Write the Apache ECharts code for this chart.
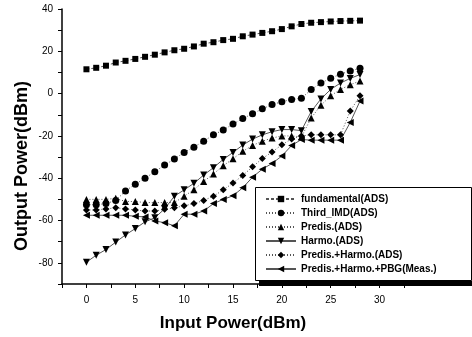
<!DOCTYPE html>
<html>
<head>
<meta charset="utf-8">
<script src="https://cdn.jsdelivr.net/npm/echarts@6/dist/echarts.min.js"></script>
<style>
  html, body { margin: 0; padding: 0; background: #fff; }
  #chart { width: 472px; height: 337px; }
</style>
</head>
<body>
<div id="chart"></div>
<script>
// input power (dBm)
const inputPower = [0, 1, 2, 3, 4, 5, 6, 7, 8, 9, 10, 11, 12, 13, 14, 15, 16, 17, 18, 19, 20, 21, 22, 23, 24, 25, 26, 27, 28];

// output power (dBm)
const fundamental = [11.5, 12.2, 13.2, 14.7, 15.5, 16.4, 17.4, 18.4, 19.5, 20.5, 21.2, 22.3, 23.6, 24.3, 25.3, 25.9, 27.1, 27.9, 28.7, 29.5, 30.5, 31.8, 32.9, 33.5, 33.8, 34.1, 34.3, 34.4, 34.5];
const thirdIMD = [-52.5, -52.5, -52, -50.5, -46, -42.8, -40, -36.9, -33.8, -30.9, -27.8, -25.3, -22.5, -19.5, -17.2, -14.4, -11.8, -9.5, -7.2, -5.2, -3.8, -2.8, -2.2, 1.9, 5, 7.3, 9.2, 10.7, 12];
const predis = [-50, -50, -50, -49.5, -51, -51, -51.5, -51.5, -51.5, -51.5, -48.5, -45.4, -41.5, -38, -34.1, -30.8, -27.3, -24.5, -22.5, -21, -20, -20, -20.5, -11.5, -5.5, -1, 2, 4.2, 6];
const harmo = [-79.7, -76.4, -73.7, -70.2, -66.8, -63.8, -60.6, -58.7, -54.5, -48.5, -45.5, -42.4, -38.5, -35, -31.1, -27.8, -24.3, -21.5, -19.5, -18, -17, -17, -17.5, -8.5, -2.5, 2, 5, 7.2, 9];
const predisHarmo = [-55, -55, -54.5, -54, -54.5, -55, -55.5, -55.5, -54.7, -54, -53, -52, -50.5, -48.5, -45.5, -42.3, -38.7, -34.6, -30.7, -27.6, -24.2, -21.4, -20, -19.5, -19.5, -19.5, -19.5, -8.2, -1];
const predisHarmoPBG = [-57.5, -57.5, -57.5, -57.5, -57.5, -58, -58.3, -60.2, -61, -62.5, -57, -57, -55.5, -52, -50, -48.3, -44.5, -39.5, -35.7, -33, -29.5, -24.5, -21.7, -22, -22, -22, -22, -13.6, -3.5];

const xLabels = [0, 5, 10, 15, 20, 25, 30];
const xTicks = [-2.5, 0, 2.5, 5, 7.5, 10, 12.5, 15, 17.5, 20, 22.5, 25, 27.5, 30, 32.5];
const yLabels = [-80, -60, -40, -20, 0, 20, 40];
const yTicks = [-90, -80, -70, -60, -50, -40, -30, -20, -10, 0, 10, 20, 30, 40];

const font = 'Arial, "Liberation Sans", sans-serif';

function mkSeries(name, values, symbol, rotate, dash) {
  return {
    name: name,
    type: 'line',
    data: inputPower.map((x, i) => [x, values[i]]),
    symbol: symbol,
    symbolSize: symbol === 'rect' ? 6 : 7,
    symbolRotate: rotate,
    itemStyle: { color: '#000' },
    lineStyle: { color: '#555', width: 1, type: dash },
    emphasis: { disabled: true },
    animation: false
  };
}

const chart = echarts.init(document.getElementById('chart'), null, { renderer: 'canvas' });
chart.setOption({
  backgroundColor: '#fff',
  animation: false,
  grid: { left: 62, top: 9, right: 68, bottom: 50 },
  xAxis: {
    type: 'value',
    min: -2.5,
    max: 32.5,
    name: 'Input Power(dBm)',
    nameLocation: 'middle',
    nameGap: 31,
    nameTextStyle: { fontFamily: font, fontWeight: 'bold', fontSize: 17, color: '#000' },
    axisLine: { onZero: false, lineStyle: { color: '#000', width: 1.5 } },
    axisTick: { customValues: xTicks, length: 4, lineStyle: { color: '#000' } },
    axisLabel: { customValues: xLabels, margin: 11, fontFamily: font, fontSize: 10, color: '#000' },
    splitLine: { show: false }
  },
  yAxis: {
    type: 'value',
    min: -90,
    max: 40,
    axisLine: { show: true, onZero: false, lineStyle: { color: '#000', width: 1.5 } },
    axisTick: { show: true, customValues: yTicks, length: 4, lineStyle: { color: '#000' } },
    axisLabel: { customValues: yLabels, margin: 9, fontFamily: font, fontSize: 10, color: '#000' },
    splitLine: { show: false }
  },
  graphic: [
    { type: 'rect', z: 3, shape: { x: 259, y: 281, width: 213, height: 5 }, style: { fill: '#000' } },
    { type: 'rect', z: 3, shape: { x: 255.5, y: 187.5, width: 216, height: 93 }, style: { fill: '#fff', stroke: '#000', lineWidth: 1 } },
    {
      type: 'text', z: 3, x: 22, y: 166, rotation: Math.PI / 2,
      style: { text: 'Output Power(dBm)', fontFamily: font, fontWeight: 'bold', fontSize: 18, fill: '#000', align: 'center', verticalAlign: 'middle' }
    }
  ],
  legend: {
    z: 5,
    orient: 'vertical',
    left: 265,
    top: 194,
    padding: 0,
    itemGap: 4,
    itemWidth: 30,
    itemHeight: 8,
    textStyle: { fontFamily: font, fontWeight: 'bold', fontSize: 10, color: '#000' },
    data: ['fundamental(ADS)', 'Third_IMD(ADS)', 'Predis.(ADS)', 'Harmo.(ADS)', 'Predis.+Harmo.(ADS)', 'Predis.+Harmo.+PBG(Meas.)']
  },
  series: [
    mkSeries('fundamental(ADS)', fundamental, 'rect', 0, [3, 2]),
    mkSeries('Third_IMD(ADS)', thirdIMD, 'circle', 0, [1, 2]),
    mkSeries('Predis.(ADS)', predis, 'triangle', 0, [1, 2]),
    mkSeries('Harmo.(ADS)', harmo, 'triangle', 180, 'solid'),
    mkSeries('Predis.+Harmo.(ADS)', predisHarmo, 'diamond', 0, [1, 2]),
    mkSeries('Predis.+Harmo.+PBG(Meas.)', predisHarmoPBG, 'triangle', 90, 'solid')
  ]
});
</script>
</body>
</html>
